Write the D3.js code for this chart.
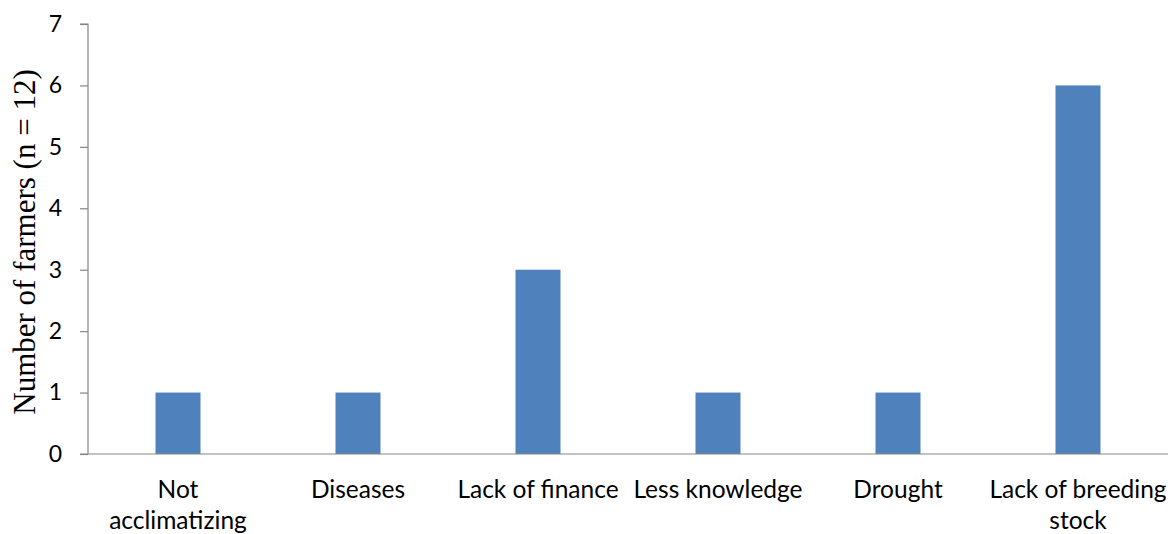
<!DOCTYPE html>
<html>
<head>
<meta charset="utf-8">
<script src="https://cdn.jsdelivr.net/npm/d3@7/dist/d3.min.js"></script>
<style>
  html, body { margin: 0; padding: 0; background: #fff; }
  svg { display: block; }
</style>
</head>
<body>
<svg id="chart" width="1174" height="534"></svg>
<script>
// Constraints reported by farmers
const categories = [
  ["Not", "acclimatizing"],
  ["Diseases"],
  ["Lack of finance"],
  ["Less knowledge"],
  ["Drought"],
  ["Lack of breeding", "stock"]
];
const farmers = [1, 1, 3, 1, 1, 6];
const yTicks = [0, 1, 2, 3, 4, 5, 6, 7];
const yTitle = "Number of farmers (n = 12)";

const svg = d3.select("#chart");
const margin = { left: 88, right: 6, top: 24, bottom: 80 };
const W = 1174, H = 534;
const labelFont = "Lato, 'Open Sans', sans-serif";

const keys = categories.map((c, i) => i);
const x = d3.scaleBand().domain(keys).range([margin.left, W - margin.right]).paddingInner(0.75).paddingOuter(0.375);
const y = d3.scaleLinear().domain([0, 7]).range([H - margin.bottom, margin.top]);

// bars
svg.append("g").selectAll("rect").data(farmers).join("rect")
  .attr("x", (d, i) => x(i))
  .attr("y", d => y(d))
  .attr("width", x.bandwidth())
  .attr("height", d => y(0) - y(d))
  .attr("fill", "#4F81BD");

// y axis
const yAxis = svg.append("g")
  .attr("transform", `translate(${margin.left},0)`)
  .call(d3.axisLeft(y).tickValues(yTicks).tickSize(8).tickPadding(18).tickFormat(d3.format("d")));
yAxis.select(".domain").attr("stroke", "#868686").attr("stroke-width", 1.2).attr("d", `M-8,${y(7)}H0V${y(0)}`);
yAxis.selectAll(".tick line").attr("stroke", "#868686").attr("stroke-width", 1.2);
yAxis.selectAll(".tick text").attr("fill", "#000").style("font-family", labelFont).style("font-size", "23px");

// x axis baseline
svg.append("line")
  .attr("x1", margin.left - 8).attr("x2", W - margin.right)
  .attr("y1", y(0)).attr("y2", y(0))
  .attr("stroke", "#868686").attr("stroke-width", 1.2);

// category labels
const lbl = svg.append("g").selectAll("text").data(categories).join("text")
  .attr("x", (d, i) => x(i) + x.bandwidth() / 2)
  .attr("y", y(0) + 44)
  .attr("text-anchor", "middle")
  .style("font-family", labelFont)
  .style("font-size", "24.5px")
  .attr("fill", "#000");
lbl.selectAll("tspan").data(d => d).join("tspan")
  .attr("x", function () { return this.parentNode.getAttribute("x"); })
  .attr("dy", (d, i) => i === 0 ? 0 : 31)
  .text(d => d);

// y title
svg.append("text")
  .attr("transform", `translate(35,242) rotate(-90)`)
  .attr("text-anchor", "middle")
  .style("font-family", "'Liberation Serif', 'Times New Roman', serif")
  .style("font-size", "31px")
  .attr("fill", "#000")
  .text(yTitle);
</script>
</body>
</html>
